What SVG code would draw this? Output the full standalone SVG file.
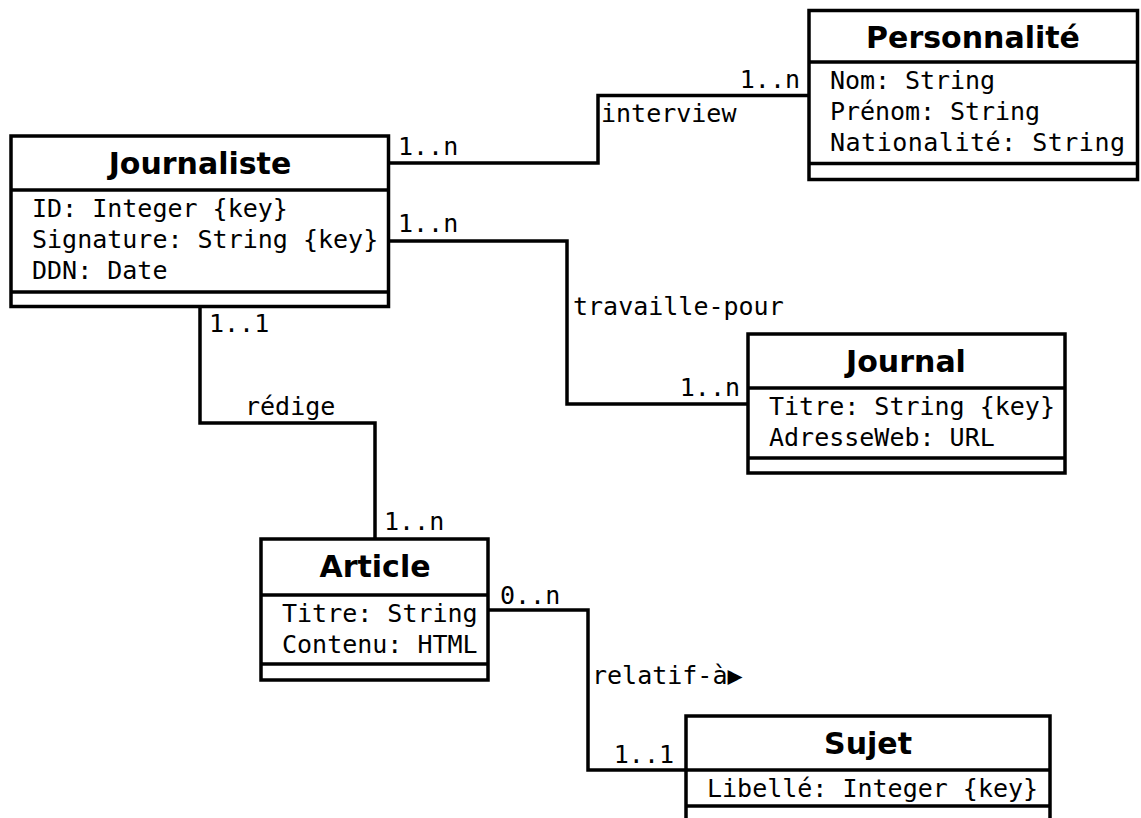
<svg xmlns="http://www.w3.org/2000/svg" width="1141" height="818" viewBox="0 0 1141 818">
<style>
.box{fill:#fff;stroke:#000;stroke-width:3.5}
.ln{fill:none;stroke:#000;stroke-width:3.5}
.ttl{font-family:"DejaVu Sans",sans-serif;font-weight:bold;font-size:30px;text-anchor:middle;fill:#000}
.att{font-family:"DejaVu Sans Mono",monospace;font-size:25px;fill:#000}
.lbl{font-family:"DejaVu Sans Mono",monospace;font-size:25px;fill:#000}
.r{text-anchor:end}
</style>
<rect width="1141" height="818" fill="#fff"/>
<g id="connectors">
<polyline class="ln" points="388.5,163 598,163 598,95.5 809,95.5"/>
<polyline class="ln" points="388.5,241 567,241 567,404 748,404"/>
<polyline class="ln" points="200,306.5 200,423 375,423 375,539"/>
<polyline class="ln" points="488,610 588,610 588,770 686,770"/>
<text class="lbl" x="398" y="155">1..n</text>
<text class="lbl r" x="800" y="88">1..n</text>
<text class="lbl" x="601" y="122">interview</text>
<text class="lbl" x="398" y="232">1..n</text>
<text class="lbl" x="573" y="315">travaille-pour</text>
<text class="lbl r" x="740" y="396">1..n</text>
<text class="lbl" x="209" y="332">1..1</text>
<text class="lbl" x="245" y="415">rédige</text>
<text class="lbl" x="384" y="530">1..n</text>
<text class="lbl" x="500" y="604">0..n</text>
<text class="lbl" x="592" y="684">relatif-à▶</text>
<text class="lbl r" x="674" y="763">1..1</text>
</g>
<g id="personnalite">
<rect class="box" x="809" y="10.5" width="328.5" height="169"/>
<line class="ln" x1="809" y1="62" x2="1137.5" y2="62"/>
<line class="ln" x1="809" y1="163.5" x2="1137.5" y2="163.5"/>
<text class="ttl" x="973" y="48">Personnalité</text>
<text class="att" x="830" y="89" textLength="165">Nom: String</text>
<text class="att" x="830" y="120" textLength="210">Prénom: String</text>
<text class="att" x="830" y="151" textLength="295">Nationalité: String</text>
</g>
<g id="journaliste">
<rect class="box" x="11" y="136" width="377.5" height="170.5"/>
<line class="ln" x1="11" y1="190" x2="388.5" y2="190"/>
<line class="ln" x1="11" y1="292" x2="388.5" y2="292"/>
<text class="ttl" x="200" y="174">Journaliste</text>
<text class="att" x="32" y="217">ID: Integer {key}</text>
<text class="att" x="32" y="248">Signature: String {key}</text>
<text class="att" x="32" y="279">DDN: Date</text>
</g>
<g id="journal">
<rect class="box" x="748" y="334" width="317" height="139"/>
<line class="ln" x1="748" y1="388" x2="1065" y2="388"/>
<line class="ln" x1="748" y1="458" x2="1065" y2="458"/>
<text class="ttl" x="906" y="372">Journal</text>
<text class="att" x="769" y="415">Titre: String {key}</text>
<text class="att" x="769" y="446">AdresseWeb: URL</text>
</g>
<g id="article">
<rect class="box" x="261" y="539" width="227" height="141"/>
<line class="ln" x1="261" y1="595" x2="488" y2="595"/>
<line class="ln" x1="261" y1="664" x2="488" y2="664"/>
<text class="ttl" x="375" y="577">Article</text>
<text class="att" x="282" y="622">Titre: String</text>
<text class="att" x="282" y="653">Contenu: HTML</text>
</g>
<g id="sujet">
<rect class="box" x="686" y="716" width="364" height="120"/>
<line class="ln" x1="686" y1="770" x2="1050" y2="770"/>
<line class="ln" x1="686" y1="806" x2="1050" y2="806"/>
<text class="ttl" x="868" y="754">Sujet</text>
<text class="att" x="707" y="797">Libellé: Integer {key}</text>
</g>
</svg>
